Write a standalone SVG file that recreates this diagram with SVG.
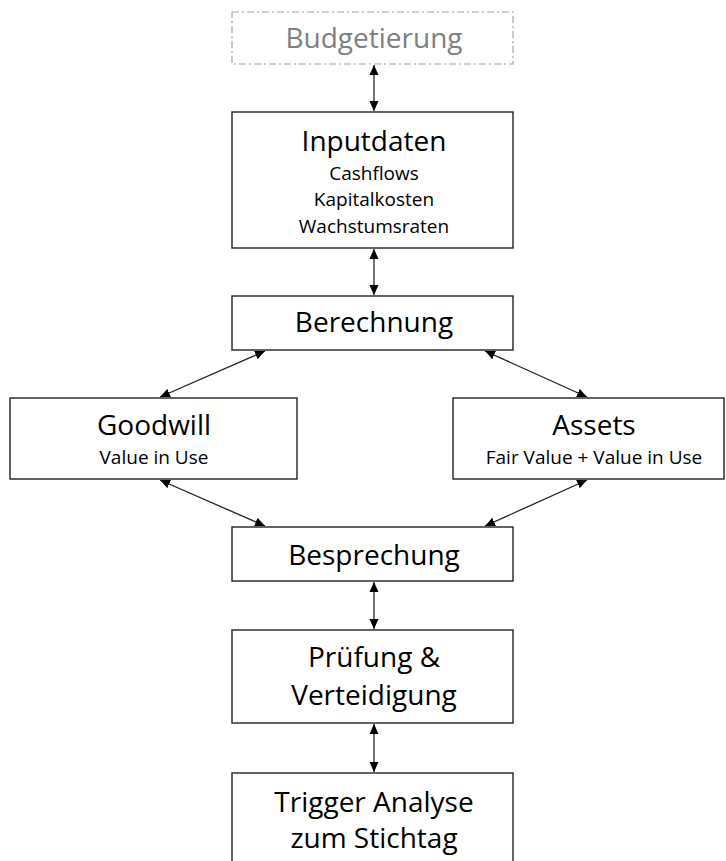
<svg xmlns="http://www.w3.org/2000/svg" width="726" height="861" viewBox="0 0 726 861">
<style>
.box{fill:#fff;stroke:#222;stroke-width:1.4}
.dash{fill:#fff;stroke:#a6a6a6;stroke-width:1.2;stroke-dasharray:7 3 2 3}
.t{font-family:"Open Sans","Liberation Sans",sans-serif;text-anchor:middle;fill:#000}
.big{font-size:28px}
.small{font-size:19px}
.gray{fill:#808080}
.c{stroke:#222;stroke-width:1.3;fill:none;marker-start:url(#ah);marker-end:url(#ah)}
</style>
<defs>
<marker id="ah" viewBox="0 0 10 10" refX="10" refY="5" markerWidth="10" markerHeight="10" markerUnits="userSpaceOnUse" orient="auto-start-reverse">
<path d="M0,0.5 L10,5 L0,9.5 z" fill="#000"/>
</marker>
</defs>
<g id="connectors">
<line class="c" x1="374" y1="65" x2="374" y2="111"/>
<line class="c" x1="374" y1="249" x2="374" y2="295"/>
<line class="c" x1="265" y1="351" x2="160" y2="397"/>
<line class="c" x1="485" y1="351" x2="587" y2="397"/>
<line class="c" x1="160" y1="480" x2="265" y2="526"/>
<line class="c" x1="587" y1="480" x2="485" y2="526"/>
<line class="c" x1="374" y1="582" x2="374" y2="629"/>
<line class="c" x1="374" y1="724" x2="374" y2="772"/>
</g>
<g id="budgetierung">
<rect class="dash" x="232" y="12" width="281" height="52"/>
<text class="t big gray" x="374" y="48">Budgetierung</text>
</g>
<g id="inputdaten">
<rect class="box" x="232" y="112" width="281" height="136"/>
<text class="t big" x="374" y="151">Inputdaten</text>
<text class="t small" x="374" y="180">Cashflows</text>
<text class="t small" x="374" y="206">Kapitalkosten</text>
<text class="t small" x="374" y="233">Wachstumsraten</text>
</g>
<g id="berechnung">
<rect class="box" x="232" y="296" width="281" height="54"/>
<text class="t big" x="374" y="332">Berechnung</text>
</g>
<g id="goodwill">
<rect class="box" x="10" y="398" width="287" height="81"/>
<text class="t big" x="154" y="435">Goodwill</text>
<text class="t small" x="154" y="464">Value in Use</text>
</g>
<g id="assets">
<rect class="box" x="453" y="398" width="271" height="81"/>
<text class="t big" x="594" y="435">Assets</text>
<text class="t small" x="594" y="464">Fair Value + Value in Use</text>
</g>
<g id="besprechung">
<rect class="box" x="232" y="527" width="281" height="54"/>
<text class="t big" x="374" y="565">Besprechung</text>
</g>
<g id="pruefung">
<rect class="box" x="232" y="630" width="281" height="93"/>
<text class="t big" x="374" y="667">Prüfung &amp;</text>
<text class="t big" x="374" y="705">Verteidigung</text>
</g>
<g id="trigger">
<rect class="box" x="232" y="773" width="281" height="100"/>
<text class="t big" x="374" y="812">Trigger Analyse</text>
<text class="t big" x="374" y="848">zum Stichtag</text>
</g>
</svg>
